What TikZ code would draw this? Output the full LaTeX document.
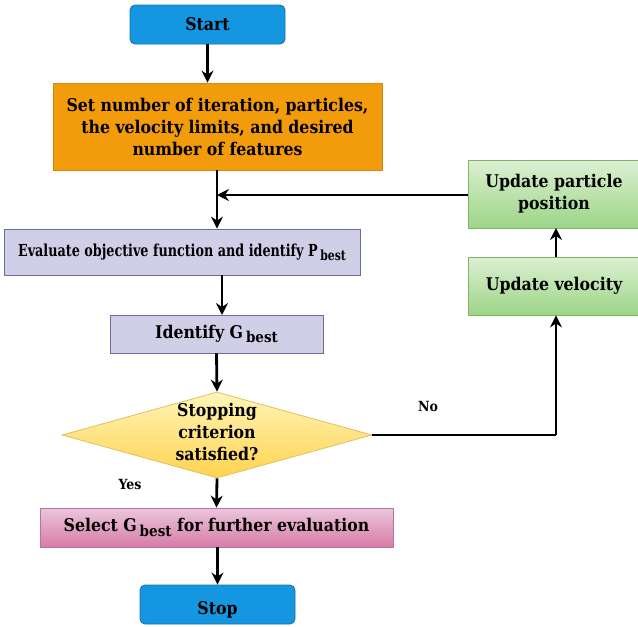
\documentclass[tikz,border=0pt]{standalone}
\usepackage{fontspec}
\setmainfont{DejaVu Serif Condensed}
\newfontfamily\narrowfont[FakeStretch=0.86]{DejaVu Serif Condensed}
\usetikzlibrary{arrows.meta,shapes.geometric}
\definecolor{startblue}{HTML}{1497E0}
\definecolor{startborder}{HTML}{1A6FA8}
\definecolor{orangef}{HTML}{F29C0B}
\definecolor{oranged}{HTML}{D9860A}
\definecolor{lavf}{HTML}{D1CFE7}
\definecolor{lavd}{HTML}{6A6F9A}
\definecolor{greentop}{HTML}{DCF0D3}
\definecolor{greenbot}{HTML}{9CD586}
\definecolor{greend}{HTML}{82B366}
\definecolor{pinktop}{HTML}{EAC6DC}
\definecolor{pinkbot}{HTML}{D77CA6}
\definecolor{pinkd}{HTML}{B5739D}
\definecolor{yeltop}{HTML}{FFF4B8}
\definecolor{yelbot}{HTML}{FFD34F}
\definecolor{yeld}{HTML}{E0C060}
\newcommand{\bst}{\raisebox{-0.5ex}{\fontsize{15}{15}\selectfont best}}
\tikzset{
  base/.style={font=\bfseries\fontsize{17.5}{22}\selectfont, align=center, inner sep=0pt, line width=0.8pt},
  termbox/.style={base, rounded corners=5pt, fill=startblue, draw=startborder},
  orangebox/.style={base, fill=orangef, draw=oranged},
  lavbox/.style={base, fill=lavf, draw=lavd},
  greenbox/.style={base, top color=greentop, bottom color=greenbot, draw=greend},
  pinkbox/.style={base, top color=pinktop, bottom color=pinkbot, draw=pinkd},
  decbox/.style={base, diamond, aspect=3.6, top color=yeltop, bottom color=yelbot, draw=yeld},
  arr/.style={line width=2.8pt, -{Stealth[length=12pt,width=12pt,inset=4pt]}},
  ln/.style={line width=2.8pt},
  lbl/.style={font=\bfseries\fontsize{14}{14}\selectfont}
}
\begin{document}
\begin{tikzpicture}[x=1pt,y=-1pt]
\useasboundingbox (0,0) rectangle (638,627);
\node[termbox, minimum width=155pt, minimum height=39pt] (start) at (207.5,24.5) {Start};
\node[orangebox, minimum width=329pt, minimum height=87pt] (set) at (217.5,126.5) {Set number of iteration, particles,\\the velocity limits, and desired\\number of features};
\node[lavbox, font=\narrowfont\bfseries\fontsize{16.5}{20}\selectfont, minimum width=356pt, minimum height=46pt] (eval) at (182,252) {Evaluate objective function and identify P\,\raisebox{-0.5ex}{\fontsize{14}{14}\selectfont best}};
\node[lavbox, minimum width=213pt, minimum height=38pt] (gbest) at (216.5,334) {Identify G\,\bst};
\node[decbox, minimum width=310pt, minimum height=86pt] (dec) at (217,435) {};
\node[base] (dectext) at (217,432) {Stopping\\criterion\\satisfied?};
\node[pinkbox, minimum width=353pt, minimum height=39pt] (sel) at (216.5,527.5) {Select G\,\bst{} for further evaluation};
\node[termbox, minimum width=155pt, minimum height=39pt, text height=23pt] (stop) at (217.5,604.5) {Stop};
\node[greenbox, minimum width=172pt, minimum height=68pt] (pos) at (554,194) {Update particle\\position};
\node[greenbox, minimum width=172pt, minimum height=58pt] (vel) at (554,286) {Update velocity};
\node[lbl] (no) at (428,406) {No};
\node[lbl] (yes) at (130,484) {Yes};
\coordinate (j1) at (217,195);
\coordinate (c1) at (556,435);
\draw[arr] (start.south) -- (start.south |- set.north);
\draw[ln] (set.south -| j1) -- (j1);
\draw[arr] (j1) -- (j1 |- eval.north);
\draw[arr] (pos.west |- j1) -- (j1);
\draw[arr] (eval.south -| 222,0) -- (222,315);
\draw[arr] (gbest.south) -- (dec.north);
\draw[ln] (dec.east) -- (c1);
\draw[arr] (c1) -- (c1 |- vel.south);
\draw[arr] (vel.north -| 556,0) -- (556,228);
\draw[arr] (dec.south) -- (sel.north);
\draw[arr] (sel.south -| stop.north) -- (stop.north);
\end{tikzpicture}
\end{document}
